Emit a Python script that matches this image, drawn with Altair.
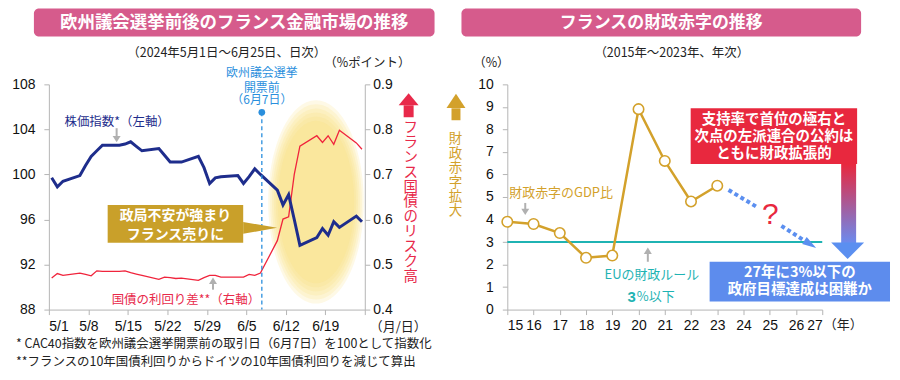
import altair as alt
import pandas as pd

JP = "Noto Sans CJK JP"
NUM = "Liberation Sans"

# ---------------- Left panel data (daily, 2024) ----------------
DATES = ["2024-05-01", "2024-05-02", "2024-05-03", "2024-05-06", "2024-05-07", "2024-05-08", "2024-05-09", "2024-05-10",
         "2024-05-13", "2024-05-14", "2024-05-15", "2024-05-16", "2024-05-17",
         "2024-05-20", "2024-05-21", "2024-05-22", "2024-05-23", "2024-05-24",
         "2024-05-27", "2024-05-28", "2024-05-29", "2024-05-30", "2024-05-31",
         "2024-06-03", "2024-06-04", "2024-06-05", "2024-06-06", "2024-06-07",
         "2024-06-10", "2024-06-11", "2024-06-12", "2024-06-13", "2024-06-14",
         "2024-06-17", "2024-06-18", "2024-06-19", "2024-06-20", "2024-06-21",
         "2024-06-24", "2024-06-25"]
STOCK = [99.7, 98.9, 99.4, 99.9, 100.8, 101.6, 102.1, 102.6,
         102.6, 102.7, 102.9, 102.5, 102.1,
         102.3, 101.7, 101.1, 101.1, 101.1,
         101.6, 100.6, 99.2, 99.7, 99.8,
         99.9, 99.2, 99.8, 100.5, 100.0,
         98.6, 97.3, 98.2, 96.0, 93.7,
         94.4, 95.2, 94.6, 95.8, 95.3,
         96.3, 95.8]
SPREAD = [0.470, 0.480, 0.476, 0.481, 0.478, 0.475, 0.486, 0.485,
          0.485, 0.486, 0.482, 0.479, 0.476,
          0.467, 0.472, 0.471, 0.469, 0.470,
          0.465, 0.471, 0.476, 0.476, 0.472,
          0.472, 0.472, 0.478, 0.476, 0.481,
          0.553, 0.601, 0.606, 0.700, 0.763,
          0.786, 0.771, 0.786, 0.767, 0.798,
          0.770, 0.756]
ELECTION_DATE = "2024-06-07T18:00:00"
X_TICKS = ["2024-05-01", "2024-05-08", "2024-05-15", "2024-05-22", "2024-05-29",
           "2024-06-05", "2024-06-12", "2024-06-19", "2024-06-26"]
LEFT_TICKS = [88, 92, 96, 100, 104, 108]
RIGHT_TICKS = [0.4, 0.5, 0.6, 0.7, 0.8, 0.9]

# ---------------- Right panel data (annual) ----------------
YEARS = [15, 16, 17, 18, 19, 20, 21, 22, 23]
DEFICIT = [3.9, 3.8, 3.4, 2.3, 2.4, 8.9, 6.6, 4.8, 5.5]
YEAR_TICKS = list(range(15, 28))
DEF_TICKS = list(range(0, 11))
EU_RULE = 3.0

# ---------------- helpers ----------------
def one():
    return alt.Chart(pd.DataFrame({"k": [0]}))

def txt(x, y, s, size=12.5, color="#222", weight="normal", align="center", font=JP, baseline="middle", lh=None):
    kw = dict(fontSize=size, color=color, fontWeight=weight, align=align, baseline=baseline, font=font)
    if lh:
        kw["lineHeight"] = lh
    return one().mark_text(**kw).encode(x=alt.value(x), y=alt.value(y), text=alt.value(s))

def box(x, x2, y, y2, color=None, **kw):
    if color is not None:
        kw["color"] = color
    return one().mark_rect(**kw).encode(
        x=alt.value(x), x2=alt.value(x2), y=alt.value(y), y2=alt.value(y2))

def seg(x, y, x2, y2, color, **kw):
    return one().mark_rule(color=color, **kw).encode(
        x=alt.value(x), y=alt.value(y), x2=alt.value(x2), y2=alt.value(y2))

def shape(x, y, path, size, color, angle=0, opacity=1):
    return one().mark_point(shape=path, size=size, filled=True, color=color, opacity=opacity,
                            strokeWidth=0, angle=angle).encode(x=alt.value(x), y=alt.value(y))

TRI_DOWN = "M-1,-0.8 L1,-0.8 L0,0.8 Z"
TRI_UP = "M-1,0.8 L1,0.8 L0,-0.8 Z"
GRAY = "#b0b0b0"

def arrow_down(x, y1, y2):
    return [seg(x, y1, x, y2 - 5, GRAY, strokeWidth=2), shape(x, y2 - 3, TRI_DOWN, 64, GRAY)]

def arrow_up(x, y1, y2):
    return [seg(x, y1 + 5, x, y2, GRAY, strokeWidth=2), shape(x, y1 + 3, TRI_UP, 64, GRAY)]

# soft yellow ellipse: concentric translucent ellipses
ELLIPSE = "M0,-1 A0.47,1 0 1,1 0,1 A0.47,1 0 1,1 0,-1 Z"
glow = [shape(268, 118, ELLIPSE, (204 * s) ** 2, "#fcdc72", opacity=0.18)
        for s in [1.0, 0.96, 0.92, 0.88, 0.84, 0.80]]

# ---------------- Left panel ----------------
df_l = pd.DataFrame({"date": pd.to_datetime(DATES) + pd.Timedelta(hours=12),
                     "stock": STOCK, "spread": SPREAD})
df_l["date"] = df_l["date"].dt.strftime("%Y-%m-%dT%H:%M:%S")

x_dom = [alt.DateTime(year=2024, month=5, date=1), alt.DateTime(year=2024, month=6, date=26)]
x_vals = [alt.DateTime(year=int(d[:4]), month=int(d[5:7]), date=int(d[8:])) for d in X_TICKS]
x_enc = alt.X("date:T", title=None, scale=alt.Scale(domain=x_dom),
              axis=alt.Axis(values=x_vals, labelPadding=5, labelFont=NUM, labelFontSize=14,
                            labelOverlap=False, labelSeparation=0,
                            labelExpr="(month(datum.value) == 5 && date(datum.value) == 26) ? '' : timeFormat(datum.value, '%-m/%-d')"))

W_L, H = 317, 226

red_line = alt.Chart(df_l).mark_line(color="#f0243c", strokeWidth=1.3).encode(
    x=x_enc,
    y=alt.Y("spread:Q", title=None, scale=alt.Scale(domain=[0.4, 0.9]),
            axis=alt.Axis(orient="right", values=RIGHT_TICKS, format=".1f", labelPadding=3,
                          labelFont=NUM, labelFontSize=14)))
navy_line = alt.Chart(df_l).mark_line(color="#1e2d8c", strokeWidth=3).encode(
    x=x_enc,
    y=alt.Y("stock:Q", title=None, scale=alt.Scale(domain=[88, 108]),
            axis=alt.Axis(orient="left", values=LEFT_TICKS, labelPadding=9,
                          labelFont=NUM, labelFontSize=14)))

df_e = pd.DataFrame({"date": [ELECTION_DATE]})
EBLUE = "#2a8fdd"
elec_rule = alt.Chart(df_e).mark_rule(color=EBLUE, strokeDash=[4, 3], strokeWidth=1.3).encode(
    x=x_enc, y=alt.value(28), y2=alt.value(H))
elec_dot = alt.Chart(df_e).mark_point(color=EBLUE, filled=True, size=45, opacity=1).encode(
    x=x_enc, y=alt.value(28))

left_layers = [
    *glow, red_line, navy_line, elec_rule, elec_dot,
    # banner
    box(-15, 387, -76, -48, "#d65b8c", cornerRadius=5),
    txt(186, -62, "欧州議会選挙前後のフランス金融市場の推移", size=17.5, color="white", weight="bold"),
    txt(178.5, -31, "（2024年5月1日～6月25日、日次）", size=12.5),
    txt(319.5, -21, "（%ポイント）", size=12.5),
    txt(213.7, -11, "欧州議会選挙", size=12, color=EBLUE),
    txt(213.7, 3.5, "開票前", size=12, color=EBLUE),
    txt(213.7, 16, "（6月7日）", size=12, color=EBLUE),
    txt(68.5, 38, "株価指数*（左軸）", size=12.5, color="#1e2d8c"),
    *arrow_down(68, 44, 58),
    txt(137.5, 216, "国債の利回り差**（右軸）", size=12.5, color="#e8294a"),
    *arrow_up(164.7, 194, 206),
    # gold callout
    box(59, 195, 121, 159, "#c9a02a"),
    shape(212, 144, "M-1,-0.35 L1,0 L-1,0.35 Z", 1156, "#c9a02a"),
    txt(127, 132, "政局不安が強まり", size=14, color="white", weight="bold"),
    txt(127, 151, "フランス売りに", size=14, color="white", weight="bold"),
    # red arrow + vertical text
    shape(361, 15, "M-1,0.6 L1,0.6 L0,-0.6 Z", 400, "#e8294a"),
    box(356, 366, 21, 33, "#e8294a"),
    txt(363, 37, list("フランス国債のリスク高"), size=14.5, color="#e8294a", baseline="top", lh=14.9),
    txt(322, 243, "（月/日）", size=13, align="left"),
    txt(-33, 261, "*  CAC40指数を欧州議会選挙開票前の取引日（6月7日）を100として指数化", size=12.5, align="left"),
    txt(-33, 279, "**フランスの10年国債利回りからドイツの10年国債利回りを減じて算出", size=12.5, align="left"),
]
left = alt.layer(*left_layers).resolve_scale(y="independent").properties(width=W_L, height=H)

# ---------------- Right panel ----------------
df_r = pd.DataFrame({"year": YEARS, "deficit": DEFICIT})
xr = alt.X("year:Q", title=None, scale=alt.Scale(domain=[15, 27]),
           axis=alt.Axis(values=YEAR_TICKS, format="d", labelPadding=4, labelFont=NUM, labelFontSize=14,
                         labelOverlap=False))
yr = alt.Y("deficit:Q", title=None, scale=alt.Scale(domain=[0, 10]),
           axis=alt.Axis(values=DEF_TICKS, labelPadding=9, labelFont=NUM, labelFontSize=14,
                         labelOverlap=False))
GOLD = "#d3a12b"
TEAL = "#1fb3b3"
df_rule = pd.DataFrame({"year": [YEAR_TICKS[0]], "year_end": [YEAR_TICKS[-1]], "deficit": [EU_RULE]})
eu_line = alt.Chart(df_rule).mark_rule(color=TEAL, strokeWidth=2).encode(
    x=xr, x2="year_end:Q", y=yr)
gold_line = alt.Chart(df_r).mark_line(color=GOLD, strokeWidth=2.5).encode(x=xr, y=yr)
gold_pts = alt.Chart(df_r).mark_point(color=GOLD, fill="white", filled=False, size=110,
                                      strokeWidth=1.6, opacity=1).encode(x=xr, y=yr)
BLUE = "#5b8ff0"
right_layers = [
    eu_line, gold_line, gold_pts,
    box(-46, 355, -76, -48, "#d65b8c", cornerRadius=5),
    txt(154.5, -62, "フランスの財政赤字の推移", size=17, color="white", weight="bold"),
    txt(165, -31, "（2015年～2023年、年次）", size=12.5),
    txt(-16, -21, "（%）", size=12.5),
    # gold arrow + vertical text
    shape(-51.5, 16.5, "M-1,0.75 L1,0.75 L0,-0.75 Z", 361, GOLD),
    box(-56, -47, 24, 36, GOLD),
    txt(-52, 48, list("財政赤字拡大"), size=13.5, color=GOLD, baseline="top", lh=14.5),
    txt(2, 109, "財政赤字のGDP比", size=13, color=GOLD, align="left"),
    *arrow_down(18, 119, 131),
    txt(145, 191, "EUの財政ルール", size=13, color=TEAL),
    txt(129, 213, "3", size=15, color=TEAL, weight="bold", align="right", font=NUM),
    txt(130, 213, "%以下", size=13, color=TEAL, align="left"),
    *arrow_up(141, 164, 178),
    # dotted projection arrow
    seg(222, 106, 252, 124, BLUE, strokeWidth=4, strokeDash=[4, 3]),
    seg(275, 142, 300, 158, BLUE, strokeWidth=4, strokeDash=[4, 3]),
    shape(304, 160.5, "M-1,-0.6 L1,0 L-1,0.6 Z", 196, BLUE, angle=33),
    txt(264, 131, "?", size=30, color="#e8283e", font=NUM),
    # red box + gradient arrow + blue box
    box(335, 350, 80, 160,
        fill={"gradient": "linear", "x1": 0, "y1": 0, "x2": 0, "y2": 1,
              "stops": [{"offset": 0, "color": "#e8283e"}, {"offset": 1, "color": "#6a8cf0"}]},
        strokeWidth=0),
    shape(341.5, 167, "M-1,-0.5 L1,-0.5 L0,0.5 Z", 1089, BLUE),
    box(184, 351, 24, 80, "#e8283e"),
    txt(267.5, 36, "支持率で首位の極右と", size=14.5, color="white", weight="bold"),
    txt(267.5, 53, "次点の左派連合の公約は", size=14.5, color="white", weight="bold"),
    txt(267.5, 70, "ともに財政拡張的", size=14.5, color="white", weight="bold"),
    box(203, 384, 178, 218, "#5d8ced"),
    txt(293.5, 189, "27年に3%以下の", size=14.5, color="white", weight="bold"),
    txt(293.5, 206, "政府目標達成は困難か", size=14.5, color="white", weight="bold"),
    txt(337, 241, "（年）", size=13),
]
right = alt.layer(*right_layers).properties(width=316, height=H)

chart = alt.hconcat(left, right, spacing=143, bounds="flush").properties(
    padding={"left": 3, "top": 0, "right": 2, "bottom": 2}
).configure_view(stroke=None).configure_axis(
    grid=False, domainColor="#b5b5b5", tickColor="#b5b5b5", tickSize=5,
    labelColor="#111", zindex=1
).configure_axisX(labelOverlap=False)

chart.save("out.html", embed_options={"renderer": "svg", "actions": False})
